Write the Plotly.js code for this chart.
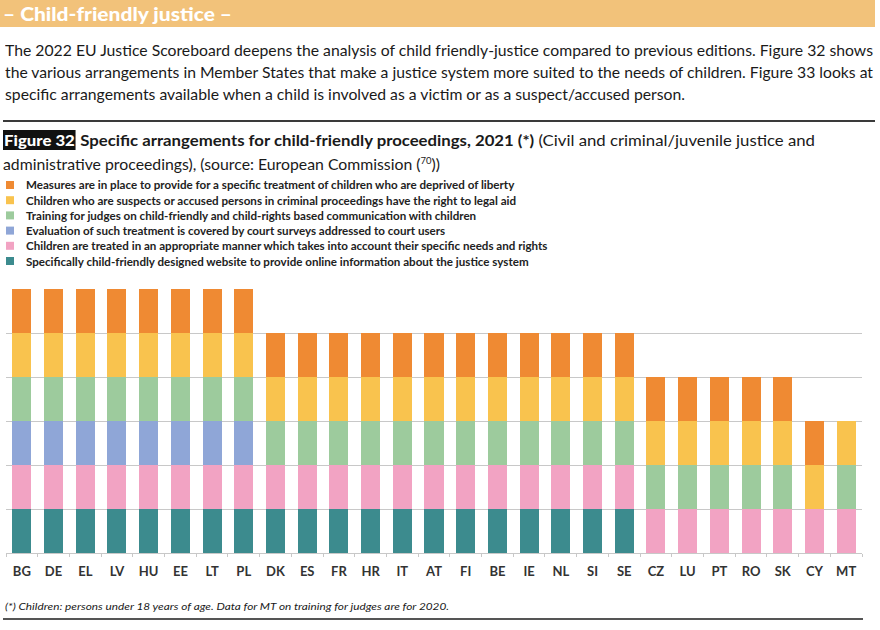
<!DOCTYPE html>
<html><head><meta charset="utf-8">
<script src="https://cdn.plot.ly/plotly-3.0.1.min.js"></script>
<style>
html,body{margin:0;padding:0;background:#fff;width:880px;height:630px;overflow:hidden;}
#chart{position:absolute;left:0;top:0;width:880px;height:630px;}
.ln{position:absolute;white-space:nowrap;transform-origin:0 50%;font-family:Lato,"Open Sans",sans-serif;color:#1a1a1a;}
.rule{position:absolute;background:#3a3a3a;}
</style></head>
<body>
<div id="chart"></div>
<div style="position:absolute;left:0;top:0;width:875px;height:27px;background:#F2C27A"></div>
<div class="ln" data-w="229" style="left:3px;top:3px;line-height:22px;font-size:18px;font-weight:900;color:#fff">– Child-friendly justice –</div>
<div class="ln" data-w="868" style="left:5px;top:39px;line-height:22px;font-size:15px">The 2022 EU Justice Scoreboard deepens the analysis of child friendly-justice compared to previous editions. Figure 32 shows</div>
<div class="ln" data-w="868" style="left:5px;top:61px;line-height:22px;font-size:15px">the various arrangements in Member States that make a justice system more suited to the needs of children. Figure 33 looks at</div>
<div class="ln" data-w="680" style="left:5px;top:83px;line-height:22px;font-size:15px">specific arrangements available when a child is involved as a victim or as a suspect/accused person.</div>
<div class="rule" style="left:3px;top:120px;width:872px;height:2px"></div>
<div class="ln" data-w="812" style="left:3px;top:130px;line-height:20px;font-size:15px"><span style="background:#111;color:#fff;font-weight:900;padding:1px 1px">Figure 32</span> <b>Specific arrangements for child-friendly proceedings, 2021 (*)</b> (Civil and criminal/juvenile justice and</div>
<div class="ln" data-w="437" style="left:3px;top:151px;line-height:20px;font-size:15px">administrative proceedings), (source: European Commission (<sup style="font-size:9px">70</sup>))</div>
<div class="ln" data-w="444" style="left:5px;top:598px;line-height:16px;font-size:10px;font-style:italic">(*) Children: persons under 18 years of age. Data for MT on training for judges are for 2020.</div>
<div class="rule" style="left:3px;top:618px;width:860px;height:2px;background:#555"></div>
<script>
// ---- data ----
const countries = ["BG","DE","EL","LV","HU","EE","LT","PL","DK","ES","FR","HR","IT","AT","FI","BE","IE","NL","SI","SE","CZ","LU","PT","RO","SK","CY","MT"];
const seriesNames = [
  "Specifically child-friendly designed website to provide online information about the justice system",
  "Children are treated in an appropriate manner which takes into account their specific needs and rights",
  "Evaluation of such treatment is covered by court surveys addressed to court users",
  "Training for judges on child-friendly and child-rights based communication with children",
  "Children who are suspects or accused persons in criminal proceedings have the right to legal aid",
  "Measures are in place to provide for a specific treatment of children who are deprived of liberty"
];
const website    = [1,1,1,1,1,1,1,1,1,1,1,1,1,1,1,1,1,1,1,1,0,0,0,0,0,0,0];
const treated    = [1,1,1,1,1,1,1,1,1,1,1,1,1,1,1,1,1,1,1,1,1,1,1,1,1,1,1];
const evaluation = [1,1,1,1,1,1,1,1,0,0,0,0,0,0,0,0,0,0,0,0,0,0,0,0,0,0,0];
const training   = [1,1,1,1,1,1,1,1,1,1,1,1,1,1,1,1,1,1,1,1,1,1,1,1,1,0,1];
const legalAid   = [1,1,1,1,1,1,1,1,1,1,1,1,1,1,1,1,1,1,1,1,1,1,1,1,1,1,1];
const measures   = [1,1,1,1,1,1,1,1,1,1,1,1,1,1,1,1,1,1,1,1,1,1,1,1,1,1,0];
const seriesValues = [website, treated, evaluation, training, legalAid, measures];
const colors = ["#3C8B8E","#F2A3C3","#8FA6D7","#9DCB9D","#F9C34E","#EF8A33"];

// ---- layout geometry ----
const L = 6, R = 862, T = 289, B = 553, W = 880, H = 630;
const px = v => (v - L) / (R - L);
const py = v => (B - v) / (B - T);

const traces = seriesValues.map((vals, i) => ({
  type: "bar", x: countries, y: vals, name: seriesNames[i],
  marker: {color: colors[i], line: {width: 0}}, width: 0.6,
  showlegend: false, hoverinfo: "x+name"
}));

// legend (top to bottom: reverse stack order)
const annotations = [], shapes = [];
const rowY = [185, 200.2, 215.4, 230.6, 245.8, 261];
for (let k = 0; k < 6; k++) {
  const i = 5 - k;
  shapes.push({type: "rect", xref: "paper", yref: "paper",
    x0: px(6), x1: px(14), y0: py(rowY[k] + 4), y1: py(rowY[k] - 4),
    fillcolor: colors[i], line: {width: 0}});
  annotations.push({xref: "paper", yref: "paper", x: px(24), y: py(rowY[k]),
    xanchor: "left", yanchor: "middle", showarrow: false,
    text: "<b>" + seriesNames[i] + "</b>",
    font: {family: "Lato, sans-serif", size: 11.6, color: "#222"}});
}

const layout = {
  width: W, height: H,
  margin: {l: L, r: W - R, t: T, b: H - B, pad: 0},
  paper_bgcolor: "#fff", plot_bgcolor: "#fff",
  barmode: "stack", bargap: 0.4,
  showlegend: false,
  xaxis: {type: "category", showline: true, linecolor: "#c8c8c8", linewidth: 1,
    ticks: "outside", tickson: "boundaries", ticklen: 3, tickcolor: "#c8c8c8",
    ticklabelstandoff: 6,
    tickfont: {family: "Lato, sans-serif", size: 13, color: "#333", weight: "bold"},
    showgrid: false, fixedrange: true},
  yaxis: {range: [0, 6], dtick: 1, showticklabels: false, showgrid: true,
    gridcolor: "#c8c8c8", gridwidth: 1, zeroline: false, fixedrange: true},
  annotations: annotations, shapes: shapes
};
Plotly.newPlot("chart", traces, layout, {displayModeBar: false, staticPlot: true});

function fit() {
  document.querySelectorAll(".ln").forEach(el => {
    el.style.transform = "none";
    const w = el.getBoundingClientRect().width;
    const t = +el.dataset.w;
    if (w > 0) el.style.transform = "scaleX(" + (t / w) + ")";
  });
}
fit();
if (document.fonts && document.fonts.ready) document.fonts.ready.then(fit);
</script>
</body></html>
